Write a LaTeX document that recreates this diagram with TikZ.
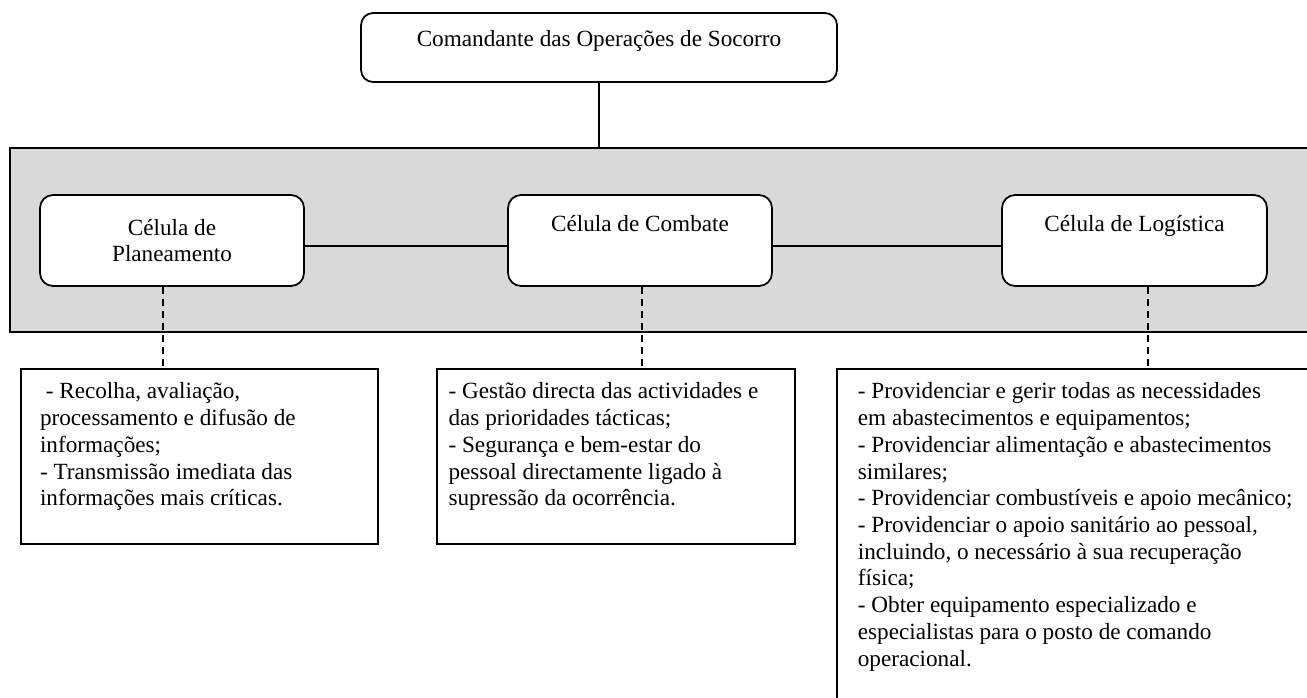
\documentclass[tikz,border=0pt]{standalone}
\usepackage{fontspec}
\setmainfont{Liberation Serif}
\definecolor{cinza}{RGB}{217,217,217}
\newcommand{\fundo}[1]{\rule[-#1]{0pt}{#1}}

\begin{document}
\begin{tikzpicture}[x=0.02cm,y=-0.02cm,line width=1pt,
        font=\fontsize{13.2}{15.2}\selectfont,
        cos node/.style={rectangle,draw,fill=white,rounded corners=0.24cm,minimum width=9.52cm,
          minimum height=1.38cm,inner ysep=0pt,text height=0.66cm,text depth=0.72cm},
        cel node/.style={rectangle,draw,fill=white,rounded corners=0.26cm,minimum width=5.28cm,
          minimum height=1.82cm,align=center},
        info node/.style={rectangle,draw,fill=white,anchor=north,align=flush left,inner ysep=0.28cm},
        faixa/.style={rectangle,draw,fill=cinza,minimum width=26.4cm,minimum height=3.68cm,inner sep=0pt},
        ligacao/.style={line width=0.9pt},
        tracejado/.style={line width=0.9pt,dash pattern=on 0.14cm off 0.1cm}]
        \useasboundingbox (0,0) rectangle (1307,697);
        \clip (0,0) rectangle (1307,697);
        \node[faixa] (faixa) at (670,240) {};
        \node[cos node] (cos) at (599,47.5) {Comandante das Operações de Socorro};
        \node[cel node] (pla) at (172,240.5) {Célula de\\Planeamento};
        \node[cel node] (com) at (640,240.5) {Célula de Combate\\\strut};
        \node[cel node,minimum width=5.30cm] (log) at (1134.5,240.5) {Célula de Logística\\\strut};
        \node[info node,text width=6.38cm,inner xsep=0.38cm] (ipla) at (199.5,368)
          {\ - Recolha, avaliação,\\processamento e difusão de\\informações;\\- Transmissão imediata das\\informações mais críticas.\fundo{0.48cm}};
        \node[info node,text width=6.7cm,inner xsep=0.23cm] (icom) at (616,368)
          {- Gestão directa das actividades e\\das prioridades tácticas;\\- Segurança e bem-estar do\\pessoal directamente ligado à\\supressão da ocorrência.\fundo{0.48cm}};
        \node[info node,anchor=north west,text width=9.16cm,inner xsep=0.42cm] (ilog) at (836,368)
          {- Providenciar e gerir todas as necessidades\\em abastecimentos e equipamentos;\\- Providenciar alimentação e abastecimentos\\similares;\\- Providenciar combustíveis e apoio mecânico;\\- Providenciar o apoio sanitário ao pessoal,\\incluindo, o necessário à sua recuperação\\física;\\- Obter equipamento especializado e\\especialistas para o posto de comando\\operacional.\fundo{1.2cm}};
        \draw[ligacao] (cos.south) -- (cos.south |- faixa.north);
        \draw[ligacao] ([yshift=-0.11cm]pla.east) -- ([yshift=-0.11cm]com.west);
        \draw[ligacao] ([yshift=-0.11cm]com.east) -- ([yshift=-0.11cm]log.west);
        \draw[tracejado] ([xshift=-0.18cm]pla.south) -- ([xshift=-0.18cm]pla.south |- ipla.north);
        \draw[tracejado] ([xshift=0.04cm]com.south) -- ([xshift=0.04cm]com.south |- icom.north);
        \draw[tracejado] ([xshift=0.27cm]log.south) -- ([xshift=0.27cm]log.south |- ilog.north);
\end{tikzpicture}
\end{document}
